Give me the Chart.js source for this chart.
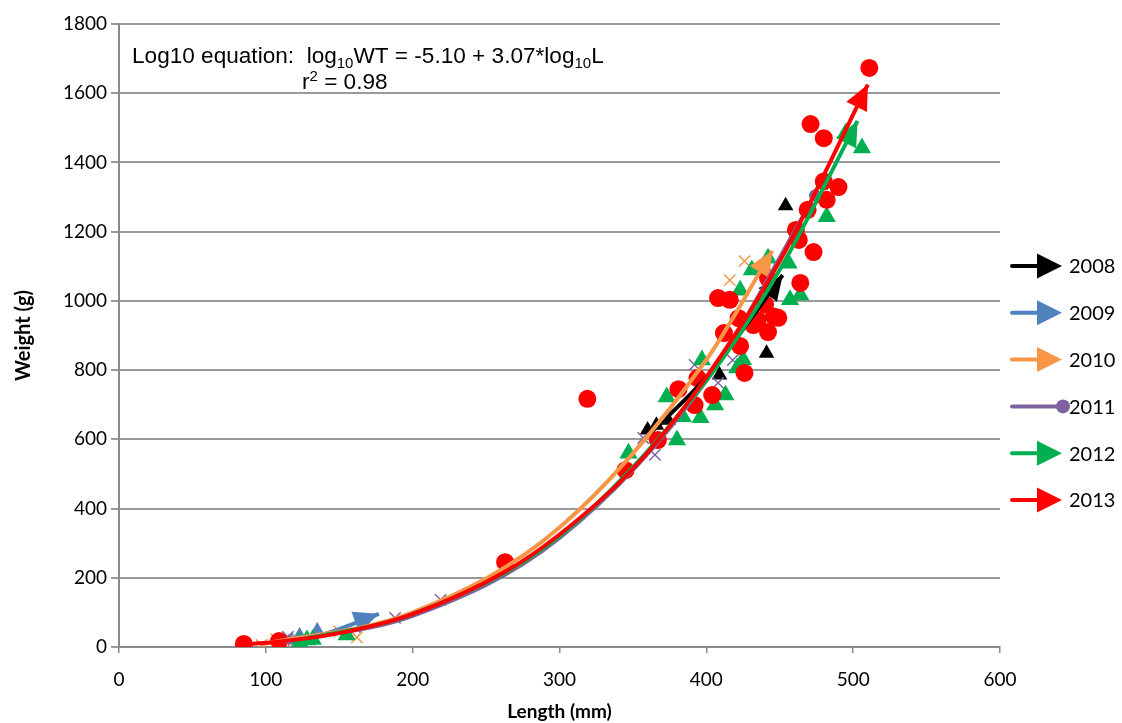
<!DOCTYPE html>
<html>
<head>
<meta charset="utf-8">
<script src="https://cdn.jsdelivr.net/npm/chart.js@4/dist/chart.umd.min.js"></script>
<style>
  body { margin: 0; background: #fff; }
  #wrap { width: 1122px; height: 723px; }
</style>
</head>
<body>
<div id="wrap"><canvas id="lw" width="1122" height="723"></canvas></div>
<script>
// years + colours (Excel defaults)
const years = ['2008', '2009', '2010', '2011', '2012', '2013'];
const colors = ['#000000', '#4F81BD', '#F79646', '#8064A2', '#00B050', '#FF0000'];

const xTicks = [0, 100, 200, 300, 400, 500, 600];
const yTicks = [0, 200, 400, 600, 800, 1000, 1200, 1400, 1600, 1800];

// fish measured each year: [length mm, weight g]
const fish2008 = [[360, 627], [366, 641], [374, 655], [409, 786], [441, 849], [454, 1275]];
const fish2009 = [[118, 20], [123, 35], [135, 49]];
const fish2010 = [[97, 6], [107, 22], [115, 18], [150, 45], [162, 28], [416, 1060], [426, 1115]];
const fish2011 = [[115, 29], [119, 20], [188, 84], [219, 136], [357, 604], [365, 555], [392, 815], [408, 763], [418, 829]];
const fish2012 = [[123, 14], [128, 20], [132, 22], [155, 35], [347, 560], [373, 722], [380, 598], [384, 665],
  [396, 662], [397, 829], [406, 699], [413, 728], [421, 806], [423, 1031], [425, 830], [431, 1089],
  [442, 1123], [456, 1109], [457, 1003], [464, 1017], [482, 1243], [495, 1485], [506, 1442]];
const fish2013 = [[85, 9], [109, 17], [263, 245], [319, 717], [345, 511], [367, 598], [381, 745], [392, 699],
  [394, 777], [404, 728], [408, 1008], [412, 907], [416, 1003], [422, 950], [423, 870], [426, 792],
  [432, 930], [435, 945], [440, 990], [442, 910], [446, 955], [449, 951], [442, 1066], [464, 1052],
  [461, 1205], [463, 1176], [469, 1263], [473, 1141], [471, 1511], [480, 1470], [480, 1345],
  [482, 1292], [490, 1329], [511, 1673]];

// trendlines
const trend2008 = [[360, 610], [400, 780], [452, 1075]];
const trend2009 = [[113, 16], [140, 38], [177, 96]];
const trend2010 = [[97, 8], [200, 100], [300, 345], [400, 830], [445, 1145]];
const trend2011 = [[113, 15], [200, 90], [300, 315], [400, 770], [474, 1305]];
const trend2012 = [[120, 18], [200, 95], [300, 320], [400, 770], [450, 1090], [503, 1520]];
const trend2013 = [[85, 8], [110, 16], [150, 40], [200, 95], [262, 215], [300, 325], [350, 515], [400, 780], [450, 1115], [510, 1625]];

const fishSets = [fish2008, fish2009, fish2010, fish2011, fish2012, fish2013];
const trendSets = [trend2008, trend2009, trend2010, trend2011, trend2012, trend2013];
const markers = ['triangle', 'triangle', 'crossRot', 'crossRot', 'triangle', 'circle'];
const radii = [9, 8, 8, 8, 10.5, 9];

const toXY = arr => arr.map(p => ({ x: p[0], y: p[1] }));

const datasets = [];
fishSets.forEach((arr, i) => {
  datasets.push({
    label: years[i],
    data: toXY(arr),
    pointStyle: markers[i],
    pointRadius: radii[i],
    pointBackgroundColor: colors[i],
    pointBorderColor: colors[i],
    pointBorderWidth: markers[i] === 'crossRot' ? 1.5 : 0,
    showLine: false,
    order: 12 - i
  });
});
trendSets.forEach((arr, i) => {
  datasets.push({
    label: years[i] + ' trend',
    data: toXY(arr),
    showLine: true,
    pointRadius: 0,
    borderColor: colors[i],
    borderWidth: 4,
    cubicInterpolationMode: 'monotone',
    endCap: i === 3 ? 'dot' : 'arrow',
    order: 6 - i
  });
});

function arrowHead(ctx, x, y, ang, len, half, color) {
  ctx.save();
  ctx.translate(x, y);
  ctx.rotate(ang);
  ctx.fillStyle = color;
  ctx.beginPath();
  ctx.moveTo(0, 0);
  ctx.lineTo(-len, -half);
  ctx.lineTo(-len, half);
  ctx.closePath();
  ctx.fill();
  ctx.restore();
}

const endCaps = {
  id: 'endCaps',
  afterDatasetDraw(chart, args) {
    const ds = chart.data.datasets[args.index];
    if (!ds.endCap) return;
    const pts = args.meta.data;
    const last = pts[pts.length - 1];
    let px = last.cp1x, py = last.cp1y;
    if (px === undefined || (px === last.x && py === last.y)) {
      px = pts[pts.length - 2].x; py = pts[pts.length - 2].y;
    }
    const ctx = chart.ctx;
    if (ds.endCap === 'dot') {
      ctx.save();
      ctx.fillStyle = ds.borderColor;
      ctx.beginPath();
      ctx.arc(last.x, last.y, 6, 0, Math.PI * 2);
      ctx.fill();
      ctx.restore();
    } else {
      arrowHead(ctx, last.x, last.y, Math.atan2(last.y - py, last.x - px), 25, 11.5, ds.borderColor);
    }
  }
};

const sideLegend = {
  id: 'sideLegend',
  afterDraw(chart) {
    const ctx = chart.ctx;
    ctx.save();
    years.forEach((yr, i) => {
      const y = 266 + i * 46.8;
      ctx.strokeStyle = colors[i];
      ctx.lineWidth = 4;
      ctx.lineCap = 'round';
      ctx.beginPath();
      ctx.moveTo(1012, y);
      ctx.lineTo(i === 3 ? 1058 : 1042, y);
      ctx.stroke();
      if (i === 3) {
        ctx.fillStyle = colors[i];
        ctx.beginPath();
        ctx.arc(1063, y, 7, 0, Math.PI * 2);
        ctx.fill();
      } else {
        arrowHead(ctx, 1062, y, 0, 25, 12.5, colors[i]);
      }
      ctx.fillStyle = '#000';
      ctx.font = '20px Lato';
      ctx.textBaseline = 'middle';
      ctx.textAlign = 'left';
      ctx.fillText(yr, 1069, y + 1);
    });
    ctx.restore();
  }
};

// equation text box with sub/superscripts
const equation = {
  id: 'equation',
  afterDraw(chart) {
    const ctx = chart.ctx;
    const big = '22.6px "Liberation Sans"', small = '15px "Liberation Sans"';
    const line1 = [['Log10 equation:  log', 0], ['10', 1], ['WT = -5.10 + 3.07*log', 0], ['10', 1], ['L', 0]];
    const line2 = [['r', 0], ['2', -1], [' = 0.98', 0]];
    ctx.save();
    ctx.fillStyle = '#000';
    ctx.textBaseline = 'alphabetic';
    const draw = (parts, x, y) => {
      parts.forEach(([t, k]) => {
        ctx.font = k ? small : big;
        const dy = k === 1 ? 5 : (k === -1 ? -8 : 0);
        ctx.fillText(t, x, y + dy);
        x += ctx.measureText(t).width;
      });
    };
    draw(line1, 132, 63);
    draw(line2, 302, 89);
    ctx.restore();
  }
};

Chart.defaults.font.family = 'Lato';
Chart.defaults.color = '#000';

new Chart(document.getElementById('lw'), {
  type: 'scatter',
  data: { datasets: datasets },
  options: {
    responsive: false,
    animation: false,
    layout: { padding: { top: 24, right: 122, left: 0, bottom: 0 } },
    plugins: { legend: { display: false }, tooltip: { enabled: false } },
    scales: {
      x: {
        type: 'linear', min: 0, max: 600,
        afterBuildTicks: s => { s.ticks = xTicks.map(v => ({ value: v })); },
        afterFit: s => { s.height = 76; },
        ticks: { font: { size: 19 }, padding: 15, callback: v => String(v) },
        grid: { drawOnChartArea: false, tickLength: 6, color: '#8a8a8a', lineWidth: 1.5 },
        border: { color: '#8a8a8a', width: 2 },
        title: { display: true, text: 'Length (mm)', font: { size: 19, weight: 'bold' }, padding: { top: 0, bottom: 0 } }
      },
      y: {
        type: 'linear', min: 0, max: 1800,
        afterBuildTicks: s => { s.ticks = yTicks.map(v => ({ value: v })); },
        afterFit: s => { s.width = 119; },
        ticks: { font: { size: 19 }, padding: 4, callback: v => String(v) },
        grid: { tickLength: 8, color: '#9a9a9a', lineWidth: 2 },
        border: { color: '#8a8a8a', width: 2 },
        title: { display: true, text: 'Weight (g)', font: { size: 20, weight: 'bold' }, padding: { top: 12, bottom: 0 } }
      }
    }
  },
  plugins: [endCaps, sideLegend, equation]
});
</script>
</body>
</html>
